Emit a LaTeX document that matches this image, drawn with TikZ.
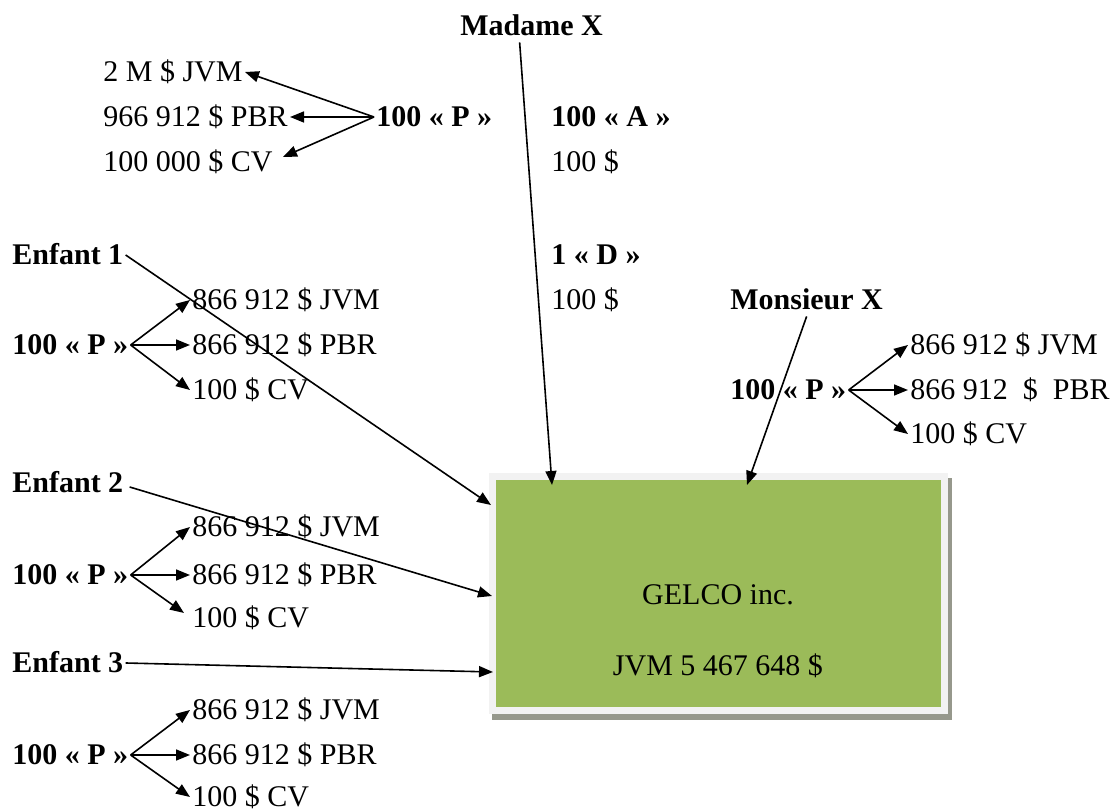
\documentclass[tikz,border=0pt]{standalone}
\usepackage{fontspec}
\setmainfont{Liberation Serif}
\usetikzlibrary{arrows.meta,calc}
\definecolor{gelcogreen}{RGB}{155,187,89}
\definecolor{gelcorim}{RGB}{242,242,242}
\definecolor{gelcoshade}{RGB}{150,152,140}

\begin{document}
\begin{tikzpicture}[x=0.5pt,y=-0.5pt,
  font=\fontsize{15}{18}\selectfont,
  arr/.style={-{Triangle[length=7pt,width=5.5pt]},line width=0.8pt},
  txt/.style={anchor=west,inner sep=1pt,text height=12pt,text depth=2pt},
  hd/.style={txt,font=\fontsize{15}{18}\selectfont\bfseries}]

% page frame (x,y in pixels of the 1110x812 layout, y downwards)
\useasboundingbox (0,0) rectangle (1110,812);

% ---- GELCO box with shadow ----
\fill[gelcoshade] (492,478) rectangle (952,720);
\node[draw=gelcorim,fill=gelcogreen,line width=3.5pt,minimum width=226pt,
  minimum height=117pt,inner sep=0pt] (gelco) at (718.5,593.5) {};
\node (gname) at (718,595) {GELCO inc.};
\node (gval) at (718,666) {JVM 5 467 648 \$};
% entry points on the box
\coordinate (inmad) at (552,485);
\coordinate (inmon) at (747,485);
\coordinate (inenfa) at (491,505);
\coordinate (inenfb) at (492,596);
\coordinate (inenfc) at (493,672);

% ---- Madame X ----
\node[hd] (madame) at (458,26) {Madame X};
\node[txt] (mjvm) at (101,72) {2 M \$ JVM};
\node[txt] (mpbr) at (101,117) {966 912 \$ PBR};
\node[txt] (mcv) at (101,162) {100 000 \$ CV};
\node[hd] (mp) at (374,117) {100 « P »};
\node[hd] (ma) at (549,117) {100 « A »};
\node[txt] (maval) at (549,162) {100 \$};
\node[hd] (md) at (549,255) {1 « D »};
\node[txt] (mdval) at (549,300) {100 \$};
\draw[arr] (mp.west) -- (mjvm.east);
\draw[arr] (mp.west) -- (mpbr.east);
\draw[arr] (mp.west) -- ($(mcv.east)+(8,-5)$);
\draw[arr] ($(madame.south)+(-12,0)$) -- (inmad);

% ---- Monsieur X ----
\node[hd] (monsieur) at (728,300) {Monsieur X};
\node[hd] (pm) at (728,390) {100 « P »};
\node[txt] (jm) at (908,345) {866 912 \$ JVM};
\node[txt] (bm) at (908,390) {866 912\ \ \$\ \ PBR};
\node[txt] (cm) at (908,434) {100 \$ CV};
\draw[arr] (pm.east) -- (jm.west);
\draw[arr] (pm.east) -- (bm.west);
\draw[arr] (pm.east) -- (cm.west);
\draw[arr] (monsieur.south) -- (inmon);

% ---- Enfant 1 ----
\node[hd] (enfa) at (10,255) {Enfant 1};
\node[hd] (pa) at (10,345) {100 « P »};
\node[txt] (ja) at (190,300) {866 912 \$ JVM};
\node[txt] (ba) at (190,345) {866 912 \$ PBR};
\node[txt] (ca) at (190,390) {100 \$ CV};
\draw[arr] (pa.east) -- (ja.west);
\draw[arr] (pa.east) -- (ba.west);
\draw[arr] (pa.east) -- (ca.west);
\draw[arr] (enfa.east) -- (inenfa);

% ---- Enfant 2 ----
\node[hd] (enfb) at (10,483) {Enfant 2};
\node[hd] (pb) at (10,575) {100 « P »};
\node[txt] (jb) at (190,527) {866 912 \$ JVM};
\node[txt] (bb) at (190,575) {866 912 \$ PBR};
\node[txt] (cb) at (190,618) {100 \$ CV};
\draw[arr] (pb.east) -- (jb.west);
\draw[arr] (pb.east) -- (bb.west);
\draw[arr] (pb.east) -- ($(cb.west)+(-6,-5)$);
\draw[arr] ($(enfb.east)+(4,4)$) -- (inenfb);

% ---- Enfant 3 ----
\node[hd] (enfc) at (10,663) {Enfant 3};
\node[hd] (pc) at (10,755) {100 « P »};
\node[txt] (jc) at (190,710) {866 912 \$ JVM};
\node[txt] (bc) at (190,755) {866 912 \$ PBR};
\node[txt] (cc) at (190,797) {100 \$ CV};
\draw[arr] (pc.east) -- (jc.west);
\draw[arr] (pc.east) -- (bc.west);
\draw[arr] (pc.east) -- (cc.west);
\draw[arr] (enfc.east) -- (inenfc);
\end{tikzpicture}
\end{document}
